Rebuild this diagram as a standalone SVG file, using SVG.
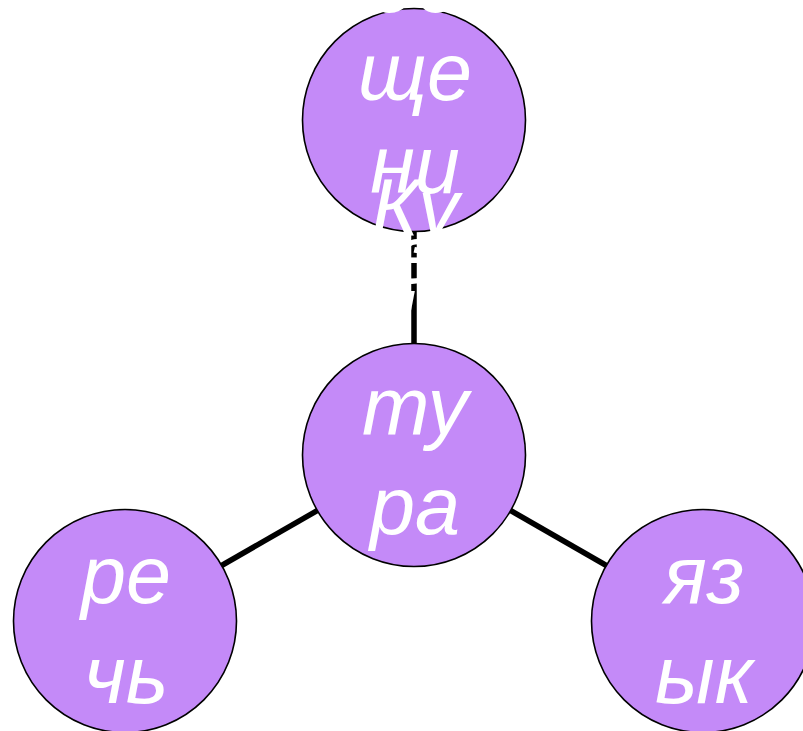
<svg xmlns="http://www.w3.org/2000/svg" width="803" height="731" viewBox="0 0 803 731">
<style>
.node{fill:#c48af8;stroke:#000;stroke-width:1.6}
.lbl{fill:#fff;font-family:"Liberation Sans",Arial,sans-serif;font-style:italic;font-size:81px;text-anchor:middle}
.edge{stroke:#000;stroke-width:5.5;fill:none}
</style>
<rect width="803" height="731" fill="#fff"/>
<g id="connectors">
<line class="edge" x1="414" y1="120" x2="414" y2="455"/>
<line class="edge" x1="414" y1="455" x2="125" y2="621"/>
<line class="edge" x1="414" y1="455" x2="703" y2="621"/>
</g>
<g id="node-obshchenie">
<circle class="node" cx="414" cy="120" r="111.5"/>
<text class="lbl" x="415" y="12">об</text>
<text class="lbl" x="415" y="100">ще</text>
<text class="lbl" x="415" y="193">ни</text>
<text class="lbl" x="415" y="283">е</text>
</g>
<g id="node-kultura">
<circle class="node" cx="414" cy="455" r="111.5"/>
<text class="lbl" x="415" y="236">Ку</text>
<text class="lbl" x="415" y="334">ль</text>
<text class="lbl" x="415" y="434">ту</text>
<text class="lbl" x="415" y="534">ра</text>
</g>
<g id="node-rech">
<circle class="node" cx="125" cy="621" r="111.5"/>
<text class="lbl" x="126" y="603">ре</text>
<text class="lbl" x="126" y="703">чь</text>
</g>
<g id="node-yazyk">
<circle class="node" cx="703" cy="621" r="111.5"/>
<text class="lbl" x="704" y="603">яз</text>
<text class="lbl" x="704" y="703">ык</text>
</g>
</svg>
